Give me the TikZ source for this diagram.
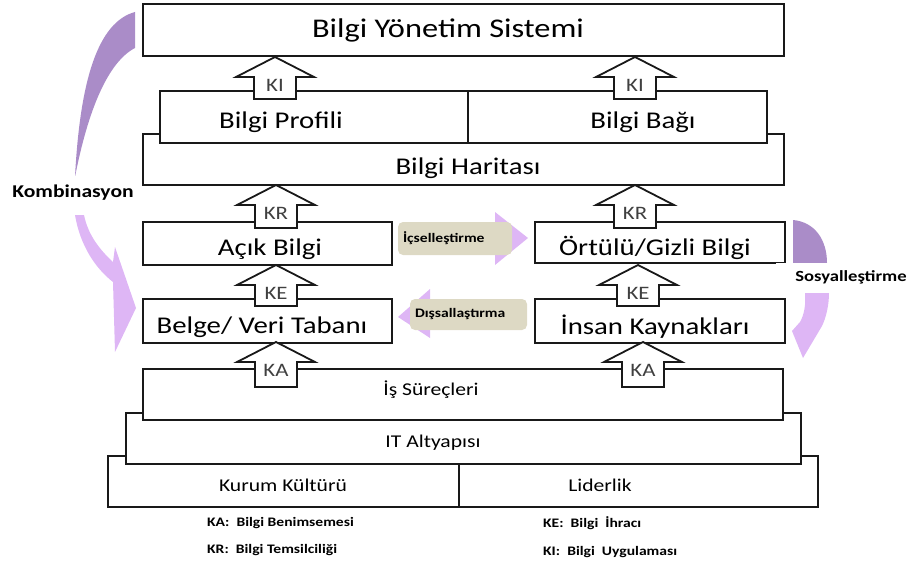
\documentclass[tikz,border=0pt]{standalone}
\usepackage{fontspec}
\setmainfont[FakeStretch=1.2]{Carlito}
\usepackage{xcolor}
\definecolor{kombdark}{RGB}{170,140,200}
\definecolor{kamblite}{RGB}{222,182,245}
\definecolor{convbeige}{RGB}{221,217,196}
\definecolor{lblgray}{RGB}{64,64,64}
\tikzset{
  layer/.style={draw=black!90, line width=2.2pt, fill=white},
  kbarrow/.style={draw=black!90, line width=1.8pt, fill=white, line join=miter},
  kblbl/.style={font=\fontsize{19}{20}\selectfont, text=lblgray, inner sep=0pt},
  titletxt/.style={font=\fontsize{27}{30}\selectfont},
  bigtxt/.style={font=\fontsize{24}{26}\selectfont},
  midtxt/.style={font=\fontsize{18}{20}\selectfont},
  sidelbl/.style={font=\bfseries\fontsize{18}{20}\selectfont, fill=white},
  convbox/.style={fill=convbeige, rounded corners=5pt, inner xsep=5pt,
    align=left, font=\bfseries\fontsize{13}{15}\selectfont},
  legendtxt/.style={anchor=west, inner sep=0pt, font=\bfseries\fontsize{13}{15}\selectfont}
}
\begin{document}
\begin{tikzpicture}[x=1pt, y=-1pt]
        \useasboundingbox (0,0) rectangle (907,564);
        % Foundation layers
        \draw[layer] (108,456) rectangle (818,507);
        \draw[line width=2.2pt, black!90] (459,456) -- (459,507);
        \draw[layer] (126,413) rectangle (801,464);
        \draw[layer] (143,369) rectangle (783,420);
        \node[midtxt] (kultur) at (283,485) {Kurum Kültürü};
        \node[midtxt] (lider) at (600,485) {Liderlik};
        \node[midtxt] (italt) at (433,443) {IT Altyapısı};
        \node[midtxt] (surec) at (431,390) {İş Süreçleri};
        % Knowledge boxes
        \draw[layer] (143,299) rectangle (392,343);
        \draw[layer] (535,299) rectangle (785,343);
        \draw[layer] (143,222) rectangle (392,265);
        \draw[layer] (535,222) rectangle (785,263);
        \node[bigtxt] (belge) at (262,327) {Belge/ Veri Tabanı};
        \node[bigtxt] (insan) at (655,327) {İnsan Kaynakları};
        \node[bigtxt] (acik) at (270,249) {Açık Bilgi};
        \node[bigtxt] (ortulu) at (655,248) {Örtülü/Gizli Bilgi};
        % Upper layers
        \draw[layer] (143,134) rectangle (784,185);
        \draw[layer] (160,91) rectangle (767,143);
        \draw[line width=2.2pt, black!90] (468,91) -- (468,143);
        \draw[layer] (143,4) rectangle (784,56);
        \node[bigtxt] (harita) at (468,168) {Bilgi Haritası};
        \node[bigtxt] (profil) at (281,122) {Bilgi Profili};
        \node[bigtxt] (bag) at (643,122) {Bilgi Bağı};
        \node[titletxt] (bys) at (448,30) {Bilgi Yönetim Sistemi};
        % Block arrows between layers
        \foreach \nm/\x/\yt/\yb/\lbl in {ki1/275/57/99/KI, ki2/635/57/99/KI,
            kr1/276/185/228/KR, kr2/635/185/228/KR, ke1/276/265/306/KE,
            ke2/638/265/306/KE, ka1/276/342/387/KA, ka2/643/342/387/KA}{
          \draw[kbarrow] (\x,\yt) -- (\x+39,\yt+20) -- (\x+21,\yt+20) -- (\x+21,\yb)
            -- (\x-21,\yb) -- (\x-21,\yt+20) -- (\x-39,\yt+20) -- cycle;
          \node[kblbl] (\nm) at (\x,\yt+28) {\lbl};
        }
        % Kombinasyon
        \fill[kombdark] (135,12) .. controls (98,22) and (80,80) .. (75,177)
          .. controls (88,110) and (108,62) .. (135,48) -- cycle;
        \fill[kamblite] (75,215) .. controls (80,245) and (95,268) .. (113,282)
          -- (115,352) -- (136,308) -- (115,247) -- (113,262)
          .. controls (100,250) and (88,235) .. (84,215) -- cycle;
        \node[sidelbl, minimum height=34] (komb) at (73,193) {Kombinasyon};
        % Sosyallestirme
        \fill[kombdark] (793,220) .. controls (815,222) and (827,240) .. (827,263)
          -- (793,263) -- cycle;
        \fill[kamblite] (805,293) .. controls (806,305) and (804,315) .. (800,322)
          -- (792,331) -- (803,358) -- (822,326)
          .. controls (826,318) and (829,305) .. (829,293) -- cycle;
        \node[sidelbl, font=\bfseries\fontsize{15.5}{17}\selectfont, minimum width=150,
          minimum height=28] (sosyal) at (851,277) {Sosyalleştirme};
        % Icsellestirme / Dissallastirma
        \fill[kamblite] (495,212) -- (528,238) -- (495,265) -- cycle;
        \node[convbox, text width=104, minimum height=33] (icsel) at (455,238.5) {İçselleştirme};
        \fill[kamblite] (430,289) -- (398,317) -- (430,338) -- cycle;
        \node[convbox, text width=107, minimum height=31] (dissal) at (468.5,314.5) {Dışsallaştırma};
        % Legend
        \node[legendtxt] (lka) at (207,523) {KA:\ \ Bilgi Benimsemesi};
        \node[legendtxt] (lkr) at (207,550) {KR:\ \ Bilgi Temsilciliği};
        \node[legendtxt] (lke) at (543,523) {KE:\ \ Bilgi\ \ İhracı};
        \node[legendtxt] (lki) at (543,552) {KI:\ \ Bilgi\ \ Uygulaması};
\end{tikzpicture}
\end{document}
